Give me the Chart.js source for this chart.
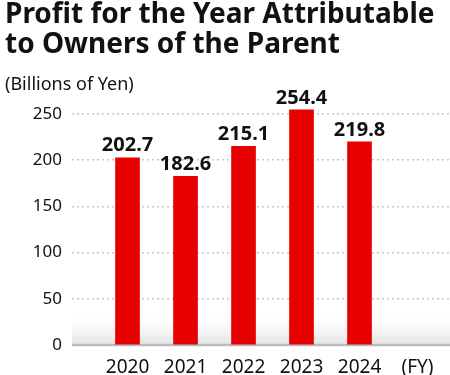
<!DOCTYPE html>
<html>
<head>
<meta charset="utf-8">
<script src="https://cdn.jsdelivr.net/npm/chart.js@4/dist/chart.umd.min.js"></script>
<style>
  html, body { margin: 0; padding: 0; background: #fff; }
  #wrap { width: 450px; height: 375px; }
</style>
</head>
<body>
<div id="wrap"><canvas id="chart"></canvas></div>
<script>
const years = [2020, 2021, 2022, 2023, 2024];
const profit = [202.7, 182.6, 215.1, 254.4, 219.8];
const yTicks = [0, 50, 100, 150, 200, 250];
const unitLabel = "(FY)";

const FONT = "'Noto Sans', sans-serif";

// light gray fade at the bottom of the plot, zero line, value labels over bars
const extras = {
  id: "extras",
  beforeDatasetsDraw(chart) {
    const { ctx, chartArea } = chart;
    const y0 = chart.scales.y.getPixelForValue(0);
    const g = ctx.createLinearGradient(0, y0 - 28, 0, y0);
    g.addColorStop(0, "rgba(238,238,238,0)");
    g.addColorStop(1, "rgba(228,228,228,1)");
    ctx.save();
    ctx.fillStyle = g;
    ctx.fillRect(chartArea.left, y0 - 28, chartArea.right - chartArea.left, 28);
    ctx.strokeStyle = "#bbbbbb";
    ctx.lineWidth = 2.5;
    ctx.beginPath();
    ctx.moveTo(chartArea.left, y0);
    ctx.lineTo(chartArea.right, y0);
    ctx.stroke();
    ctx.restore();
  },
  afterDatasetsDraw(chart) {
    const { ctx } = chart;
    const meta = chart.getDatasetMeta(0);
    ctx.save();
    ctx.font = "bold 20px " + FONT;
    ctx.fillStyle = "#111";
    ctx.textAlign = "center";
    ctx.textBaseline = "bottom";
    meta.data.forEach((bar, i) => {
      ctx.fillText(profit[i].toFixed(1), bar.x, bar.y - 2);
    });
    ctx.restore();
  }
};

new Chart(document.getElementById("chart"), {
  type: "bar",
  data: {
    labels: years,
    datasets: [{
      data: years.map((x, i) => ({ x: x, y: profit[i] })),
      backgroundColor: "#e60000",
      barThickness: 24,
      clip: false
    }]
  },
  plugins: [extras],
  options: {
    responsive: true,
    maintainAspectRatio: false,
    animation: false,
    layout: { padding: { left: 5, right: 0, top: 0, bottom: 0 } },
    plugins: {
      legend: { display: false },
      tooltip: { enabled: false },
      title: {
        display: true,
        text: ["Profit for the Year Attributable", "to Owners of the Parent"],
        align: "start",
        color: "#111",
        font: { family: FONT, size: 28, weight: "bold", lineHeight: 1.07 },
        padding: { top: 0, bottom: 12 }
      },
      subtitle: {
        display: true,
        text: "(Billions of Yen)",
        align: "start",
        color: "#111",
        font: { family: FONT, size: 18, lineHeight: 1.2 },
        padding: { top: 2, bottom: 0 }
      }
    },
    scales: {
      x: {
        type: "linear",
        offset: false,
        min: 2019.043,
        max: 2025.56,
        afterBuildTicks(scale) {
          scale.ticks = years.concat([2025]).map(v => ({ value: v }));
        },
        afterFit(scale) { scale.height = 30; },
        grid: { display: false },
        border: { display: false },
        ticks: {
          color: "#111",
          font: { family: FONT, size: 19 },
          padding: 3,
          maxRotation: 0,
          callback: v => (v === 2025 ? unitLabel : String(v))
        }
      },
      y: {
        min: 0,
        max: 270,
        afterBuildTicks(scale) {
          scale.ticks = yTicks.map(v => ({ value: v }));
        },
        afterFit(scale) { scale.width = 67; },
        grid: {
          drawTicks: false,
          color: ctx => (ctx.tick.value === 0 ? "rgba(0,0,0,0)" : "#c8c8c8"),
          lineWidth: 1.5
        },
        border: { display: false, dash: [2, 3] },
        ticks: {
          color: "#111",
          font: { family: FONT, size: 17 },
          padding: 10
        }
      }
    }
  }
});
</script>
</body>
</html>
